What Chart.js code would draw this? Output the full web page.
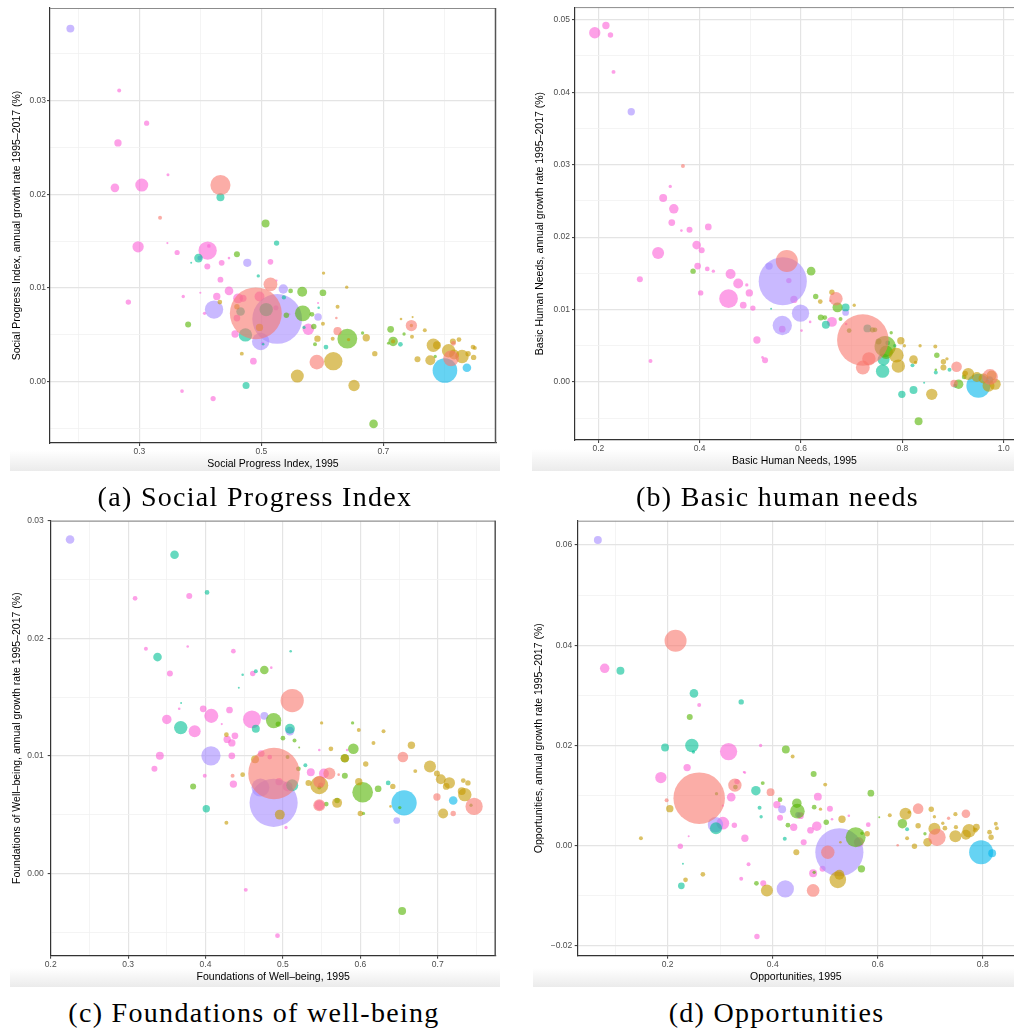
<!DOCTYPE html>
<html>
<head>
<meta charset="utf-8">
<script src="https://cdn.jsdelivr.net/npm/chart.js@4.4.1/dist/chart.umd.min.js"></script>
<style>
  body { margin: 0; background: #fff; width: 1014px; height: 1032px; position: relative; overflow: hidden; }
  canvas { position: absolute; }
  .band { position: absolute; background: linear-gradient(#ffffff, #ebebeb); }
  .cap { position: absolute; font-family: "Liberation Serif", serif; font-size: 28px; letter-spacing: 1.3px; line-height: 30px; text-align: center; color: #000; }
</style>
</head>
<body>
<div class="band" style="left:10px;top:450px;width:490px;height:21px"></div>
<div class="band" style="left:532px;top:449px;width:482px;height:22px"></div>
<div class="band" style="left:10px;top:968px;width:490px;height:19px"></div>
<div class="band" style="left:533px;top:968px;width:481px;height:19px"></div>

<canvas id="spi" width="507" height="472" style="left:0;top:0"></canvas>
<canvas id="bhn" width="507" height="472" style="left:507px;top:0"></canvas>
<canvas id="fow" width="507" height="480" style="left:0;top:510px"></canvas>
<canvas id="opp" width="507" height="480" style="left:507px;top:510px"></canvas>

<div class="cap" style="left:0;top:482px;width:510px">(a) Social Progress Index</div>
<div class="cap" style="left:524px;top:482px;width:507px">(b) Basic human needs</div>
<div class="cap" style="left:0;top:998px;width:508px">(c) Foundations of well-being</div>
<div class="cap" style="left:523px;top:998px;width:507px">(d) Opportunities</div>

<script>
// regions (colour groups) and their ggplot hue colours
const regions = ["EAP", "ECA", "LAC", "MENA", "NA", "SA", "SSA"];
const regionColors = ["rgba(248,118,109,0.6)", "rgba(196,154,0,0.6)", "rgba(83,180,0,0.6)",
  "rgba(0,192,148,0.6)", "rgba(0,182,235,0.6)", "rgba(165,138,255,0.6)", "rgba(251,97,215,0.6)"];

// [region, index 1995, annual growth 1995-2017, population (millions)]
const spiPoints = [
  ["EAP",0.433,0.0210,180],["EAP",0.334,0.0175,7],["EAP",0.515,0.0104,85],["EAP",0.491,0.0073,1200],
  ["EAP",0.625,0.0054,30],["EAP",0.623,0.0068,3],["EAP",0.591,0.0021,95],["EAP",0.746,0.0060,57],
  ["EAP",0.811,0.0025,110],["EAP",0.815,0.0041,10],
  ["ECA",0.602,0.0116,5],["ECA",0.640,0.0101,5],["ECA",0.432,0.0085,10],["ECA",0.460,0.0080,13],
  ["ECA",0.497,0.0058,24],["ECA",0.625,0.0080,7],["ECA",0.601,0.0062,7],["ECA",0.592,0.0046,18],
  ["ECA",0.617,0.0046,7],["ECA",0.672,0.0047,24],["ECA",0.643,0.0045,5],["ECA",0.468,0.0030,7],
  ["ECA",0.618,0.0022,150],["ECA",0.686,0.0030,13],["ECA",0.559,0.0006,75],["ECA",0.652,-0.0004,57],
  ["ECA",0.729,0.0067,3],["ECA",0.748,0.0069,2],["ECA",0.746,0.0060,5],["ECA",0.768,0.0055,7],
  ["ECA",0.747,0.0048,7],["ECA",0.716,0.0043,8],["ECA",0.782,0.0039,80],["ECA",0.788,0.0039,28],
  ["ECA",0.777,0.0023,44],["ECA",0.807,0.0033,80],["ECA",0.829,0.0027,80],["ECA",0.816,0.0029,44],
  ["ECA",0.839,0.0030,13],["ECA",0.847,0.0037,10],["ECA",0.850,0.0036,7],["ECA",0.848,0.0026,13],
  ["ECA",0.824,0.0045,10],["ECA",0.814,0.0043,16],["ECA",0.756,0.0024,16],
  ["LAC",0.507,0.0169,28],["LAC",0.460,0.0136,16],["LAC",0.567,0.0096,44],["LAC",0.601,0.0095,20],
  ["LAC",0.548,0.0097,10],["LAC",0.541,0.0071,13],["LAC",0.568,0.0073,110],["LAC",0.583,0.0072,10],
  ["LAC",0.586,0.0059,13],["LAC",0.588,0.0040,7],["LAC",0.641,0.0046,175],["LAC",0.666,0.0052,5],
  ["LAC",0.712,0.0056,20],["LAC",0.716,0.0043,40],["LAC",0.734,0.0051,5],["LAC",0.708,0.0041,3],
  ["LAC",0.684,-0.0045,33],["LAC",0.785,0.0027,5],["LAC",0.380,0.0061,16],
  ["MENA",0.433,0.0197,28],["MENA",0.525,0.0148,13],["MENA",0.397,0.0132,33],["MENA",0.385,0.0127,1],
  ["MENA",0.495,0.0113,5],["MENA",0.508,0.0077,80],["MENA",0.466,0.0075,33],["MENA",0.474,0.0050,80],
  ["MENA",0.606,0.0037,10],["MENA",0.475,-0.0004,22],["MENA",0.594,0.0079,3],["MENA",0.728,0.0040,10],
  ["MENA",0.503,0.0040,3],["MENA",0.570,0.0058,5],["MENA",0.537,0.0090,8],
  ["NA",0.801,0.0012,270],["NA",0.837,0.0015,33],
  ["SA",0.187,0.0377,28],["SA",0.477,0.0127,30],["SA",0.536,0.0099,40],["SA",0.4225,0.0077,150],
  ["SA",0.526,0.0067,1100],["SA",0.499,0.0043,135],["SA",0.593,0.0069,25],["SA",0.399,0.0132,10],
  ["SSA",0.267,0.0311,7],["SSA",0.312,0.0276,12],["SSA",0.265,0.0255,24],["SSA",0.260,0.0207,33],
  ["SSA",0.304,0.0210,75],["SSA",0.347,0.0221,4],["SSA",0.298,0.0144,57],["SSA",0.346,0.0148,2],
  ["SSA",0.412,0.0140,150],["SSA",0.414,0.0145,6],["SSA",0.362,0.0138,12],["SSA",0.447,0.0132,3],
  ["SSA",0.435,0.0127,15],["SSA",0.4115,0.0123,16],["SSA",0.515,0.0128,14],["SSA",0.433,0.0109,15],
  ["SSA",0.525,0.0108,2],["SSA",0.447,0.0097,33],["SSA",0.427,0.0091,24],["SSA",0.462,0.0089,44],
  ["SSA",0.470,0.0089,22],["SSA",0.497,0.0091,44],["SSA",0.372,0.0091,5],["SSA",0.400,0.0095,2],
  ["SSA",0.282,0.0085,13],["SSA",0.407,0.0073,5],["SSA",0.524,0.0079,12],["SSA",0.460,0.0068,20],
  ["SSA",0.457,0.0051,24],["SSA",0.577,0.0056,57],["SSA",0.487,0.0022,20],["SSA",0.370,-0.0010,6],
  ["SSA",0.421,-0.0018,12],["SSA",0.593,0.0084,2],["SSA",0.502,0.0041,5],["SSA",0.546,0.0072,2]
];

const bhnPoints = [
  ["EAP",0.572,0.0167,215],["EAP",0.367,0.0298,7],["EAP",0.669,0.0115,80],["EAP",0.722,0.0058,1180],
  ["EAP",0.734,0.0032,80],["EAP",0.722,0.0020,85],["EAP",0.907,0.0021,50],["EAP",0.902,-0.0002,24],
  ["EAP",0.973,0.0007,110],["EAP",0.658,0.0112,3],
  ["ECA",0.661,0.0124,13],["ECA",0.638,0.0111,10],["ECA",0.705,0.0106,5],["ECA",0.797,0.0057,24],
  ["ECA",0.804,0.0050,5],["ECA",0.788,0.0037,96],["ECA",0.792,0.0022,80],["ECA",0.822,0.0031,33],
  ["ECA",0.858,-0.0017,57],["ECA",0.835,0.0050,5],["ECA",0.865,0.0049,7],["ECA",0.881,0.0028,13],
  ["ECA",0.888,0.0032,5],["ECA",0.881,0.0020,16],["ECA",0.826,0.0027,5],["ECA",0.930,0.0011,64],
  ["ECA",0.947,0.0007,44],["ECA",0.960,0.0005,44],["ECA",0.970,-0.0005,64],["ECA",0.983,-0.0003,57],
  ["ECA",0.976,0.0009,44],["ECA",0.924,0.0012,13],
  ["LAC",0.387,0.0153,13],["LAC",0.620,0.0153,33],["LAC",0.629,0.0118,13],["LAC",0.672,0.0103,44],
  ["LAC",0.639,0.0089,16],["LAC",0.647,0.0089,10],["LAC",0.678,0.0087,7],["LAC",0.695,0.0071,10],
  ["LAC",0.741,0.0072,13],["LAC",0.746,0.0072,10],["LAC",0.778,0.0068,5],["LAC",0.753,0.0056,16],
  ["LAC",0.766,0.0049,200],["LAC",0.768,0.0041,80],["LAC",0.868,0.0037,13],["LAC",0.911,-0.0003,40],
  ["LAC",0.832,-0.0054,28],["LAC",0.922,0.0007,10],["LAC",0.866,0.0017,3],
  ["MENA",0.731,0.0074,28],["MENA",0.688,0.0103,28],["MENA",0.649,0.0079,28],["MENA",0.761,0.0015,80],
  ["MENA",0.763,0.0031,64],["MENA",0.771,0.0054,10],["MENA",0.799,-0.0017,24],["MENA",0.822,-0.0011,28],
  ["MENA",0.820,0.0023,7],["MENA",0.866,0.0013,7],["MENA",0.893,0.0017,7],["MENA",0.904,-0.0005,7],
  ["MENA",0.843,-0.0001,1],["MENA",0.785,0.0050,5],["MENA",0.541,0.0101,1],
  ["NA",0.950,-0.0005,256],["NA",0.972,0.0003,24],
  ["SA",0.265,0.0373,24],["SA",0.564,0.0139,1030],["SA",0.537,0.0160,24],["SA",0.599,0.0095,133],
  ["SA",0.563,0.0078,165],["SA",0.688,0.0096,20],
  ["SSA",0.193,0.0482,57],["SSA",0.215,0.0492,24],["SSA",0.224,0.0479,13],["SSA",0.230,0.0428,7],
  ["SSA",0.328,0.0254,28],["SSA",0.342,0.0270,5],["SSA",0.349,0.0239,40],["SSA",0.345,0.0220,20],
  ["SSA",0.364,0.0209,3],["SSA",0.380,0.0210,16],["SSA",0.417,0.0214,20],["SSA",0.318,0.0178,64],
  ["SSA",0.394,0.0189,33],["SSA",0.404,0.0182,16],["SSA",0.396,0.0160,20],["SSA",0.415,0.0156,10],
  ["SSA",0.427,0.0153,5],["SSA",0.282,0.0142,16],["SSA",0.461,0.0149,44],["SSA",0.476,0.0136,44],
  ["SSA",0.493,0.0134,5],["SSA",0.498,0.0123,24],["SSA",0.402,0.0123,13],["SSA",0.457,0.0115,155],
  ["SSA",0.486,0.0106,20],["SSA",0.505,0.0102,13],["SSA",0.513,0.0058,24],["SSA",0.529,0.0030,16],
  ["SSA",0.524,0.0034,3],["SSA",0.303,0.0029,7],["SSA",0.576,0.0140,13],["SSA",0.586,0.0114,24],
  ["SSA",0.563,0.0073,20],["SSA",0.618,0.0083,3],["SSA",0.601,0.0071,3],["SSA",0.661,0.0083,44],
  ["SSA",0.689,0.0080,3]
];

const fowPoints = [
  ["EAP",0.512,0.0147,240],["EAP",0.4885,0.0085,1180],["EAP",0.560,0.0085,64],["EAP",0.547,0.0078,64],
  ["EAP",0.655,0.0099,50],["EAP",0.699,0.0065,24],["EAP",0.747,0.0057,133],["EAP",0.547,0.0058,64],
  ["EAP",0.720,0.0051,13],["EAP",0.435,0.0083,7],["EAP",0.572,0.0084,3],
  ["ECA",0.550,0.0128,5],["ECA",0.598,0.0122,7],["ECA",0.630,0.0121,7],["ECA",0.617,0.0111,7],
  ["ECA",0.562,0.0106,10],["ECA",0.666,0.0109,24],["ECA",0.607,0.0093,13],["ECA",0.671,0.0087,7],
  ["ECA",0.690,0.0091,64],["ECA",0.699,0.0085,16],["ECA",0.704,0.0080,44],["ECA",0.715,0.0077,57],
  ["ECA",0.711,0.0074,20],["ECA",0.733,0.0079,10],["ECA",0.739,0.0077,13],["ECA",0.731,0.0070,28],
  ["ECA",0.735,0.0067,80],["ECA",0.707,0.0051,44],["ECA",0.642,0.0074,13],["ECA",0.598,0.0078,24],
  ["ECA",0.600,0.0051,13],["ECA",0.570,0.0060,44],["ECA",0.547,0.0075,143],["ECA",0.533,0.0077,16],
  ["ECA",0.496,0.0050,44],["ECA",0.464,0.0097,28],["ECA",0.448,0.0084,10],["ECA",0.427,0.0118,10],
  ["ECA",0.427,0.0043,7],["ECA",0.580,0.0098,28],["ECA",0.639,0.0057,3],
  ["LAC",0.476,0.0173,33],["LAC",0.488,0.0130,105],["LAC",0.494,0.0127,13],["LAC",0.500,0.0115,10],
  ["LAC",0.515,0.0113,7],["LAC",0.521,0.0107,1],["LAC",0.506,0.0099,7],["LAC",0.520,0.0089,10],
  ["LAC",0.384,0.0074,16],["LAC",0.591,0.0106,50],["LAC",0.590,0.0128,5],["LAC",0.580,0.0098,33],
  ["LAC",0.580,0.0083,16],["LAC",0.603,0.0069,190],["LAC",0.623,0.0072,20],["LAC",0.570,0.0062,13],
  ["LAC",0.556,0.0059,10],["LAC",0.547,0.0073,7],["LAC",0.604,0.0051,5],["LAC",0.654,-0.0032,28],
  ["LAC",0.651,0.0056,5],["LAC",0.743,0.0058,5],
  ["MENA",0.360,0.0271,33],["MENA",0.402,0.0239,10],["MENA",0.338,0.0184,33],["MENA",0.368,0.0124,80],
  ["MENA",0.465,0.0123,28],["MENA",0.512,0.0075,64],["MENA",0.509,0.0123,44],["MENA",0.401,0.0055,24],
  ["MENA",0.510,0.0189,3],["MENA",0.465,0.0172,7],["MENA",0.448,0.0169,3],["MENA",0.443,0.0158,1],
  ["MENA",0.3685,0.0145,1],["MENA",0.636,0.0077,10],["MENA",0.529,0.0092,7],
  ["NA",0.6565,0.0060,285],["NA",0.720,0.0062,33],
  ["SA",0.225,0.0284,33],["SA",0.407,0.0100,165],["SA",0.488,0.0060,1030],["SA",0.471,0.0073,143],
  ["SA",0.476,0.0134,28],["SA",0.509,0.0121,33],["SA",0.647,0.0045,20],
  ["SSA",0.309,0.0234,10],["SSA",0.379,0.0236,16],["SSA",0.323,0.0191,7],["SSA",0.377,0.0193,3],
  ["SSA",0.436,0.0189,10],["SSA",0.354,0.0170,16],["SSA",0.461,0.0170,13],["SSA",0.485,0.0175,3],
  ["SSA",0.366,0.0140,3],["SSA",0.397,0.0140,20],["SSA",0.4075,0.0134,88],["SSA",0.431,0.0139,20],
  ["SSA",0.350,0.0131,40],["SSA",0.386,0.0121,64],["SSA",0.460,0.0131,143],["SSA",0.421,0.0127,2],
  ["SSA",0.428,0.0114,24],["SSA",0.438,0.0117,20],["SSA",0.434,0.0111,24],["SSA",0.341,0.0100,28],
  ["SSA",0.434,0.0100,20],["SSA",0.334,0.0089,16],["SSA",0.399,0.0083,7],["SSA",0.436,0.0076,24],
  ["SSA",0.472,0.0102,20],["SSA",0.483,0.0099,10],["SSA",0.495,0.0078,24],["SSA",0.506,0.0074,44],
  ["SSA",0.536,0.0086,28],["SSA",0.553,0.0085,44],["SSA",0.549,0.0075,13],["SSA",0.547,0.0058,44],
  ["SSA",0.547,0.0105,3],["SSA",0.504,0.0039,5],["SSA",0.452,-0.0014,7],["SSA",0.493,-0.0053,10],
  ["SSA",0.583,0.0105,3]
];

const oppPoints = [
  ["EAP",0.215,0.0409,215],["EAP",0.260,0.0095,1180],["EAP",0.328,0.0121,80],["EAP",0.396,0.0107,28],
  ["EAP",0.198,0.0091,7],["EAP",0.477,-0.0089,72],["EAP",0.505,-0.0013,80],["EAP",0.677,0.0074,50],
  ["EAP",0.713,0.0017,133],["EAP",0.768,0.0064,33],["EAP",0.638,0.0001,3],["EAP",0.735,0.0055,5],
  ["ECA",0.149,0.0015,7],["ECA",0.204,0.0074,24],["ECA",0.234,-0.0068,10],["ECA",0.267,-0.0057,10],
  ["ECA",0.389,-0.0089,64],["ECA",0.438,0.0178,7],["ECA",0.500,0.0122,7],["ECA",0.491,0.0073,5],
  ["ECA",0.445,-0.0013,16],["ECA",0.524,-0.0068,123],["ECA",0.527,-0.0058,44],["ECA",0.532,0.0053,24],
  ["ECA",0.529,0.0007,3],["ECA",0.580,0.0024,13],["ECA",0.623,0.0061,7],["ECA",0.653,0.0064,64],
  ["ECA",0.660,0.0067,5],["ECA",0.656,0.0015,7],["ECA",0.670,-0.0001,13],["ECA",0.677,0.0040,13],
  ["ECA",0.695,0.0007,33],["ECA",0.702,0.0073,13],["ECA",0.708,0.0058,5],["ECA",0.708,0.0034,64],
  ["ECA",0.724,0.0045,5],["ECA",0.728,0.0035,10],["ECA",0.748,0.0063,8],["ECA",0.748,0.0019,64],
  ["ECA",0.749,0.0037,8],["ECA",0.768,0.0022,44],["ECA",0.774,0.0030,80],["ECA",0.788,0.0037,20],
  ["ECA",0.786,0.0031,10],["ECA",0.813,0.0027,10],["ECA",0.816,0.0017,13],["ECA",0.825,0.0044,7],
  ["ECA",0.827,0.0035,7],
  ["LAC",0.242,0.0257,16],["LAC",0.425,0.0192,28],["LAC",0.478,0.0143,16],["LAC",0.381,0.0125,7],
  ["LAC",0.414,0.0092,10],["LAC",0.446,0.0085,40],["LAC",0.447,0.0069,96],["LAC",0.479,0.0077,10],
  ["LAC",0.429,0.0041,10],["LAC",0.502,0.0047,13],["LAC",0.587,0.0105,20],["LAC",0.558,0.0017,178],
  ["LAC",0.569,-0.0046,24],["LAC",0.369,-0.0075,10],["LAC",0.479,-0.0053,5],["LAC",0.329,0.0117,10],
  ["LAC",0.647,0.0044,40],["LAC",0.690,0.0024,5],["LAC",0.603,0.0057,1],["LAC",0.570,0.0025,5],
  ["LAC",0.293,0.0104,5],
  ["MENA",0.110,0.0349,28],["MENA",0.250,0.0304,33],["MENA",0.340,0.0287,13],["MENA",0.195,0.0196,28],
  ["MENA",0.246,0.0200,80],["MENA",0.249,0.0187,5],["MENA",0.368,0.0110,40],["MENA",0.292,0.0035,64],
  ["MENA",0.226,-0.0080,20],["MENA",0.375,0.0076,7],["MENA",0.378,0.0058,5],["MENA",0.229,-0.0036,1],
  ["MENA",0.656,0.0033,7],["MENA",0.423,0.0014,7],
  ["NA",0.797,-0.0013,256],["NA",0.818,-0.0015,28],
  ["SA",0.067,0.0610,28],["SA",0.527,-0.0013,1030],["SA",0.291,0.0042,105],["SA",0.424,-0.0086,133],
  ["SA",0.418,0.0073,28],["SA",0.448,0.0062,13],
  ["SSA",0.080,0.0354,40],["SSA",0.260,0.0281,7],["SSA",0.237,0.0156,24],["SSA",0.187,0.0136,57],
  ["SSA",0.316,0.0188,133],["SSA",0.377,0.0200,5],["SSA",0.347,0.0146,3],["SSA",0.332,0.0128,13],
  ["SSA",0.321,0.0097,33],["SSA",0.305,0.0045,72],["SSA",0.327,0.0041,13],["SSA",0.224,-0.0001,13],
  ["SSA",0.347,0.0015,24],["SSA",0.354,-0.0037,7],["SSA",0.340,-0.0066,7],["SSA",0.382,-0.0075,16],
  ["SSA",0.370,-0.0181,13],["SSA",0.408,0.0082,24],["SSA",0.414,0.0056,16],["SSA",0.486,0.0098,28],
  ["SSA",0.509,0.0074,16],["SSA",0.440,0.0037,24],["SSA",0.472,0.0031,20],["SSA",0.484,0.0039,40],
  ["SSA",0.459,0.0007,16],["SSA",0.477,-0.0055,28],["SSA",0.495,-0.0046,16],["SSA",0.582,0.0042,10],
  ["SSA",0.545,0.0060,3],["SSA",0.513,0.0053,3],["SSA",0.453,0.0060,20],["SSA",0.240,0.0019,1],
  ["SSA",0.305,0.0080,2],["SSA",0.564,0.0007,44],["SSA",0.345,0.0147,2]
];

// axis breaks (major = labelled, minor = grid only)
const spiXMajor = [0.3, 0.5, 0.7], spiXMinor = [0.2, 0.4, 0.6, 0.8];
const spiYMajor = [0, 0.01, 0.02, 0.03], spiYMinor = [-0.005, 0.005, 0.015, 0.025, 0.035];
const bhnXMajor = [0.2, 0.4, 0.6, 0.8, 1.0], bhnXMinor = [0.3, 0.5, 0.7, 0.9];
const bhnYMajor = [0, 0.01, 0.02, 0.03, 0.04, 0.05], bhnYMinor = [-0.005, 0.005, 0.015, 0.025, 0.035, 0.045];
const fowXMajor = [0.2, 0.3, 0.4, 0.5, 0.6, 0.7], fowXMinor = [0.25, 0.35, 0.45, 0.55, 0.65, 0.75];
const fowYMajor = [0, 0.01, 0.02, 0.03], fowYMinor = [-0.005, 0.005, 0.015, 0.025];
const oppXMajor = [0.2, 0.4, 0.6, 0.8], oppXMinor = [0.1, 0.3, 0.5, 0.7];
const oppYMajor = [-0.02, 0, 0.02, 0.04, 0.06], oppYMinor = [-0.01, 0.01, 0.03, 0.05];

const FONT = "'Liberation Sans', Arial, sans-serif";

function bubbleRadius(pop) {
  return Math.max(1, 0.75 * Math.sqrt(pop));
}

function fmt(v, dec) {
  return v.toFixed(dec).replace('-', '\u2212');
}

// top / right panel border
const panelFrame = {
  id: 'panelFrame',
  afterDraw(chart, args, opts) {
    const {ctx, chartArea: a} = chart;
    ctx.save();
    ctx.lineWidth = 1;
    ctx.strokeStyle = '#8c8c8c';
    ctx.beginPath();
    ctx.moveTo(a.left, a.top + 0.5);
    ctx.lineTo(a.right, a.top + 0.5);
    ctx.stroke();
    if (opts.right) {
      ctx.strokeStyle = '#555';
      ctx.lineWidth = 1.5;
      ctx.beginPath();
      ctx.moveTo(a.right - 0.5, a.top);
      ctx.lineTo(a.right - 0.5, a.bottom);
      ctx.stroke();
    }
    ctx.restore();
  }
};

function axis(a, isX) {
  const isMajor = c => c.tick && a.major.includes(c.tick.value);
  return {
    type: 'linear',
    position: isX ? 'bottom' : 'left',
    min: a.min,
    max: a.max,
    afterBuildTicks: s => {
      s.ticks = a.major.concat(a.minor).sort((u, v) => u - v).map(v => ({value: v}));
    },
    afterFit: s => {
      if (isX) s.height = a.size; else s.width = a.size;
    },
    ticks: {
      autoSkip: false,
      maxRotation: 0,
      padding: a.pad,
      color: '#4d4d4d',
      font: {family: FONT, size: 8.5},
      callback: v => a.major.includes(v) ? fmt(v, a.dec) : ''
    },
    grid: {
      color: c => isMajor(c) ? '#e4e4e4' : '#f1f1f1',
      lineWidth: c => isMajor(c) ? 1.2 : 0.8,
      tickColor: c => isMajor(c) ? '#333' : 'rgba(0,0,0,0)',
      tickLength: 3,
      tickWidth: 1
    },
    border: {color: '#333', width: 1.2},
    title: {
      display: true,
      text: a.title,
      color: '#000',
      font: {family: FONT, size: 10.5},
      padding: isX ? {top: 0, bottom: a.titlePad} : {top: a.titlePad, bottom: 0}
    }
  };
}

function buildChart(id, points, p) {
  const datasets = regions.map((reg, i) => ({
    label: reg,
    data: points.filter(d => d[0] === reg).map(d => ({x: d[1], y: d[2], r: bubbleRadius(d[3])})),
    backgroundColor: regionColors[i],
    borderWidth: 0,
    hoverBorderWidth: 0
  }));

  return new Chart(document.getElementById(id), {
    type: 'bubble',
    data: {datasets: datasets},
    options: {
      responsive: false,
      animation: false,
      devicePixelRatio: 1,
      events: [],
      layout: {autoPadding: false, padding: {top: p.padTop, right: p.padRight, left: 0, bottom: 0}},
      plugins: {
        legend: {display: false},
        tooltip: {enabled: false},
        panelFrame: {right: p.frameRight}
      },
      scales: {
        x: axis(p.x, true),
        y: axis(p.y, false)
      }
    },
    plugins: [panelFrame]
  });
}

buildChart('spi', spiPoints, {
  padTop: 8, padRight: 11, frameRight: true,
  x: {min: 0.1536, max: 0.8847, major: spiXMajor, minor: spiXMinor, dec: 1, size: 29, pad: 1, titlePad: 1.7,
      title: 'Social Progress Index, 1995'},
  y: {min: -0.00654, max: 0.0399, major: spiYMajor, minor: spiYMinor, dec: 2, size: 50, pad: 1, titlePad: 10.4,
      title: 'Social Progress Index, annual growth rate 1995\u20132017 (%)'}
});

buildChart('bhn', bhnPoints, {
  padTop: 5, padRight: 0, frameRight: false,
  x: {min: 0.154, max: 1.0203, major: bhnXMajor, minor: bhnXMinor, dec: 1, size: 32, pad: 1, titlePad: 4.7,
      title: 'Basic Human Needs, 1995'},
  y: {min: -0.008, max: 0.05174, major: bhnYMajor, minor: bhnYMinor, dec: 2, size: 68, pad: 2, titlePad: 27,
      title: 'Basic Human Needs, annual growth rate 1995\u20132017 (%)'}
});

buildChart('fow', fowPoints, {
  padTop: 10.7, padRight: 11.3, frameRight: true,
  x: {min: 0.2, max: 0.7749, major: fowXMajor, minor: fowXMinor, dec: 1, size: 34.3, pad: 1.2, titlePad: 6.4,
      title: 'Foundations of Well\u2013being, 1995'},
  y: {min: -0.007, max: 0.03, major: fowYMajor, minor: fowYMinor, dec: 2, size: 50.7, pad: 4, titlePad: 10.4,
      title: 'Foundations of Well\u2013being, annual growth rate 1995\u20132017 (%)'}
});

buildChart('opp', oppPoints, {
  padTop: 10.7, padRight: 0, frameRight: false,
  x: {min: 0.0286, max: 0.8596, major: oppXMajor, minor: oppXMinor, dec: 1, size: 34.3, pad: 1.2, titlePad: 6.4,
      title: 'Opportunities, 1995'},
  y: {min: -0.02193, max: 0.06485, major: oppYMajor, minor: oppYMinor, dec: 2, size: 70.7, pad: 2.4, titlePad: 26,
      title: 'Opportunities, annual growth rate 1995\u20132017 (%)'}
});
</script>
</body>
</html>
